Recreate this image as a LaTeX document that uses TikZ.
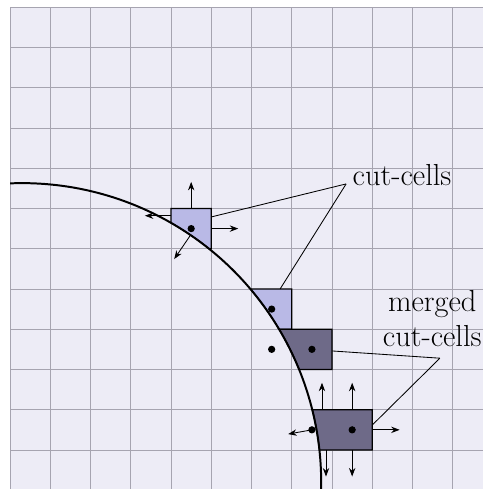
\documentclass[tikz,border=0pt]{standalone}
\usepackage{xcolor}
\usepackage{tikz}
\usetikzlibrary{arrows.meta,calc}
\definecolor{bglav}{HTML}{EDECF6}
\definecolor{gridgray}{HTML}{A6A4B0}
\definecolor{cutlight}{HTML}{B9B9E6}
\definecolor{mergedark}{HTML}{6E6A88}
\tikzset{
  cellbox/.style={draw=black,line width=0.9pt,line join=miter},
  flux/.style={->,line width=0.6pt},
  leader/.style={line width=0.6pt},
  ctrdot/.style={circle,fill=black,inner sep=0pt,minimum size=0.18cm},
  lbl/.style={font=\fontsize{21.5}{24.7}\selectfont,inner sep=0pt}
}

\begin{document}
\begin{tikzpicture}[>={Stealth[length=6pt,width=4.5pt]}]
  \useasboundingbox (-0.25,0.03) rectangle (11.75,12.18);
  \clip (0,0) rectangle (11.75,12);
  \fill[bglav] (0,0) rectangle (11.75,12);
  \draw[gridgray,line width=0.6pt] (0,0) grid (11.75,12);
  \coordinate (O) at (0.3,0.2);
  \def\rad{7.43}
  % cut cells
  \draw[cellbox,fill=cutlight] ($(O)+(60.13:\rad)$) -- (4,7) -- (5,7) -- (5,6)
    -- ($(O)+(51.31:\rad)$) arc[start angle=51.31,end angle=60.13,radius=\rad] -- cycle;
  \draw[cellbox,fill=cutlight] ($(O)+(39.90:\rad)$) -- (6,5) -- (7,5) -- (7,4)
    -- ($(O)+(30.76:\rad)$) arc[start angle=30.76,end angle=39.90,radius=\rad] -- cycle;
  % merged cut cells
  \draw[cellbox,fill=mergedark] ($(O)+(30.76:\rad)$) -- (8,4) -- (8,3)
    -- ($(O)+(22.14:\rad)$) arc[start angle=22.14,end angle=30.76,radius=\rad] -- cycle;
  \draw[cellbox,fill=mergedark] ($(O)+(14.02:\rad)$) -- (9,2) -- (9,1)
    -- ($(O)+(6.18:\rad)$) arc[start angle=6.18,end angle=14.02,radius=\rad] -- cycle;
  % boundary
  \draw[line width=1.4pt] ($(O)+(92.31:\rad)$) arc[start angle=92.31,end angle=-3,radius=\rad];
  % cell centres
  \node[ctrdot] (cA) at (4.5,6.5) {};
  \node[ctrdot] (cB) at (6.5,4.5) {};
  \node[ctrdot] (mA1) at (6.5,3.5) {};
  \node[ctrdot] (mA2) at (7.5,3.5) {};
  \node[ctrdot] (mB1) at (7.5,1.5) {};
  \node[ctrdot] (mB2) at (8.5,1.5) {};
  % fluxes
  \draw[flux] (4.5,7) -- (4.5,7.66);
  \draw[flux] (5,6.5) -- (5.67,6.5);
  \draw[flux] (4,6.82) -- (3.35,6.82);
  \draw[flux] ($(O)+(55.72:\rad)$) -- ($(O)+(55.72:6.71)$);
  \draw[flux] (7.75,2) -- (7.75,2.67);
  \draw[flux] (8.5,2) -- (8.5,2.67);
  \draw[flux] (7.85,1) -- (7.85,0.34);
  \draw[flux] (8.5,1) -- (8.5,0.34);
  \draw[flux] (9,1.5) -- (9.68,1.5);
  \draw[flux] (mB1.center) -- ++(190.1:0.6);
  % labels
  \node[lbl,anchor=base] (cutlbl) at (9.74,7.56) {cut-cells};
  \node[lbl,align=center] (mrglbl) at (10.49,4.26) {merged\\cut-cells};
  \coordinate (cutend) at (8.35,7.61);
  \coordinate (mrgend) at (10.68,3.28);
  \draw[leader] (cutend) -- (5,6.79);
  \draw[leader] (cutend) -- (6.71,5);
  \draw[leader] (mrgend) -- (8,3.46);
  \draw[leader] (mrgend) -- (9,1.62);
\end{tikzpicture}
\end{document}
